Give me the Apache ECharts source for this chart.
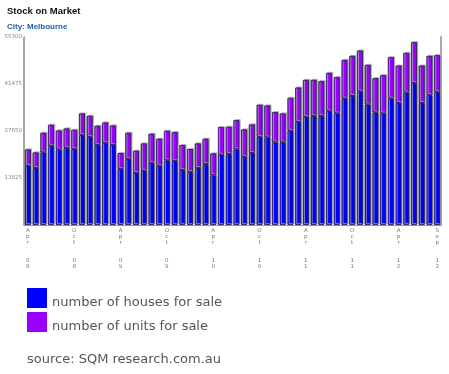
<!DOCTYPE html>
<html><head><meta charset="utf-8">
<script src="https://cdn.jsdelivr.net/npm/echarts@6/dist/echarts.min.js"></script>
<style>html,body{margin:0;padding:0;background:#fff}#c{width:449px;height:374px}</style>
</head><body><div id="c"></div>
<script>
const months = [
 "Apr 08","May 08","Jun 08","Jul 08","Aug 08","Sep 08","Oct 08","Nov 08","Dec 08",
 "Jan 09","Feb 09","Mar 09","Apr 09","May 09","Jun 09","Jul 09","Aug 09","Sep 09","Oct 09","Nov 09","Dec 09",
 "Jan 10","Feb 10","Mar 10","Apr 10","May 10","Jun 10","Jul 10","Aug 10","Sep 10","Oct 10","Nov 10","Dec 10",
 "Jan 11","Feb 11","Mar 11","Apr 11","May 11","Jun 11","Jul 11","Aug 11","Sep 11","Oct 11","Nov 11","Dec 11",
 "Jan 12","Feb 12","Mar 12","Apr 12","May 12","Jun 12","Jul 12","Aug 12","Sep 12"
];
const shownLabels = ["Apr 08","Oct 08","Apr 09","Oct 09","Apr 10","Oct 10","Apr 11","Oct 11","Apr 12","Sep 12"];
const houses = [17430,16740,21340,23300,22220,22710,22320,26430,25850,23500,
 24180,23500,16450,19380,15270,15960,18210,17430,18990,18800,
 16150,15570,16740,17920,14590,20660,20850,22220,20070,21150,
 25940,25750,24280,24280,27710,30350,31820,32010,32010,33480,
 32800,37200,37990,39260,35440,33090,32800,37200,35930,38960,
 41710,35930,38180,39060];
const units = [4790,4600,5780,6170,5580,5680,5680,6370,6260,5670,
 5970,5770,4700,7740,6560,8030,8610,7930,8720,8510,
 7350,6750,7250,7440,6460,8120,8030,8620,8030,8420,
 9400,9400,8910,8520,9690,10080,10860,10670,10280,11260,
 10670,11360,11740,12040,11650,10080,11260,12140,10960,11650,
 12040,10960,11550,10870];
const yTicks = [0,13825,27650,41475,55300];

const chart = echarts.init(document.getElementById('c'), null, {renderer:'canvas'});
const barStyle = (c)=>({color:c, borderColor:'#1a1a40', borderWidth:0.8,
  shadowColor:'#a8a8a8', shadowBlur:0, shadowOffsetX:1.2, shadowOffsetY:-1});
chart.setOption({
  animation:false,
  title:[
    {text:'Stock on Market', left:7, top:6, padding:0, textStyle:{fontFamily:'Liberation Sans, Arial', fontWeight:'bold', fontSize:9.5, color:'#111'}},
    {text:'City: Melbourne', left:7, top:23, padding:0, textStyle:{fontFamily:'Liberation Sans, Arial', fontWeight:'bold', fontSize:8, color:'#1f5ea8'}}
  ],
  legend:{
    orient:'vertical', left:27, top:287, padding:0, itemWidth:20, itemHeight:20, itemGap:2,
    icon:'rect', selectedMode:false,
    itemStyle:{borderWidth:0, shadowColor:'rgba(0,0,0,0)'},
    formatter:(name)=>'\n'+name,
    textStyle:{fontFamily:'DejaVu Sans', fontSize:13, lineHeight:9, color:'#555'},
    data:['number of houses for sale','number of units for sale']
  },
  graphic:[{type:'text', left:27, top:353, style:{text:'source: SQM research.com.au', font:'13px "DejaVu Sans"', fill:'#555'}}],
  grid:{left:24, right:8, top:37, bottom:149, containLabel:false},
  xAxis:{
    type:'category', data:months,
    axisLine:{lineStyle:{color:'#999', width:1}}, axisTick:{show:false},
    axisLabel:{
      interval:(i,v)=>shownLabels.indexOf(v)>=0,
      formatter:(v)=>{const p=v.split(' '); return p[0].split('').join('\n')+'\n\n\n'+p[1].split('').join('\n');},
      fontFamily:'DejaVu Sans', fontSize:5.5, lineHeight:6, color:'#777', margin:3
    }
  },
  yAxis:[{
    type:'value', min:0, max:55300, interval:13825,
    splitLine:{show:false}, axisTick:{show:false},
    axisLine:{show:true, lineStyle:{color:'#888', width:1.5}},
    axisLabel:{fontFamily:'DejaVu Sans', fontSize:5.5, color:'#888', margin:2,
      formatter:(v)=> (v===yTicks[0] ? '' : String(v))}
  },{
    type:'value', min:0, max:55300, interval:13825, position:'right',
    splitLine:{show:false}, axisTick:{show:false}, axisLabel:{show:false},
    axisLine:{show:true, lineStyle:{color:'#aaa', width:2}}
  }],
  series:[
    {name:'number of houses for sale', type:'bar', stack:'s', data:houses, barCategoryGap:'22%',
     itemStyle:barStyle('#0000ff')},
    {name:'number of units for sale', type:'bar', stack:'s', data:units, barCategoryGap:'22%',
     itemStyle:barStyle('#9900ff')}
  ]
});
</script></body></html>
